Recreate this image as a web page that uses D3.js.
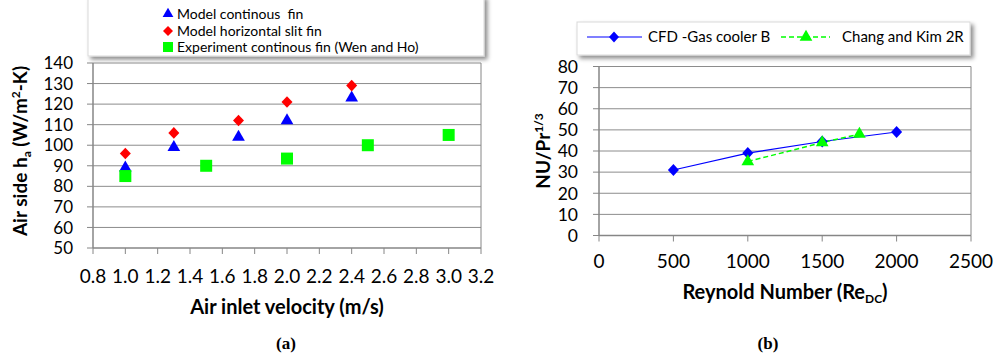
<!DOCTYPE html>
<html><head><meta charset="utf-8">
<script src="https://cdn.jsdelivr.net/npm/d3@7"></script>
<style>
html,body{margin:0;padding:0;background:#fff;}
svg{display:block;font-family:Lato,"Open Sans",sans-serif;}
</style></head>
<body><svg id="c" width="995" height="359"></svg>
<script>
// ---- Data (a) ----
const velocity = [1.0, 1.3, 1.7, 2.0, 2.4];
const modelContinuous = [89, 99, 104, 112, 123];
const modelSlit = [96, 106, 112, 121, 129];
const expVelocity = [1.0, 1.5, 2.0, 2.5, 3.0];
const expContinuous = [85, 90, 93.5, 100, 105];
const xTicksA = [0.8,1.0,1.2,1.4,1.6,1.8,2.0,2.2,2.4,2.6,2.8,3.0,3.2];
const yTicksA = [50,60,70,80,90,100,110,120,130,140];
const legendA = ["Model continous  fin","Model horizontal slit fin","Experiment continous fin (Wen and Ho)"];
// ---- Data (b) ----
const reCFD = [500, 1000, 1500, 2000];
const nuCFD = [31, 39, 44.5, 49];
const reChang = [1000, 1500, 1750];
const nuChang = [35, 44, 48];
const xTicksB = [0,500,1000,1500,2000,2500];
const yTicksB = [0,10,20,30,40,50,60,70,80];
const legendB = ["CFD -Gas cooler B","Chang and Kim 2R"];

const svg = d3.select("#c");
const defs = svg.append("defs");
const f = defs.append("filter").attr("id","sh").attr("x","-5%").attr("y","-20%").attr("width","115%").attr("height","160%");
f.append("feDropShadow").attr("dx",3).attr("dy",3).attr("stdDeviation",2).attr("flood-color","#000").attr("flood-opacity",0.45);

const gridCol = "#8c8c8c", axisCol = "#868686";
const diamond = (w,h) => `M0,${-h}L${w},0L0,${h}L${-w},0Z`;

// ---------------- Chart (a) ----------------
const xA = d3.scaleLinear().domain([0.8,3.2]).range([93,481]);
const yA = d3.scaleLinear().domain([50,140]).range([248,63]);
const gA = svg.append("g");

// legend box
gA.append("rect").attr("x",88).attr("y",-4).attr("width",396).attr("height",60)
  .attr("fill","#fff").attr("stroke","#d9d9d9").attr("filter","url(#sh)");

// grid
gA.selectAll(".gy").data(yTicksA.slice(1)).enter().append("line")
  .attr("x1",xA(0.8)).attr("x2",xA(3.2)).attr("y1",d=>yA(d)).attr("y2",d=>yA(d))
  .attr("stroke",gridCol).attr("stroke-width",1);
gA.append("line").attr("x1",xA(3.2)).attr("x2",xA(3.2)).attr("y1",yA(140)).attr("y2",yA(50)).attr("stroke",axisCol);
// axes
gA.append("line").attr("x1",xA(0.8)).attr("x2",xA(0.8)).attr("y1",yA(140)).attr("y2",yA(50)).attr("stroke",axisCol).attr("stroke-width",1.5);
gA.append("line").attr("x1",xA(0.8)).attr("x2",xA(3.2)).attr("y1",yA(50)).attr("y2",yA(50)).attr("stroke",axisCol).attr("stroke-width",1.5);
gA.selectAll(".ty").data(yTicksA).enter().append("line")
  .attr("x1",xA(0.8)-6).attr("x2",xA(0.8)).attr("y1",d=>yA(d)).attr("y2",d=>yA(d)).attr("stroke",axisCol);
gA.selectAll(".tx").data(xTicksA).enter().append("line")
  .attr("x1",d=>xA(d)).attr("x2",d=>xA(d)).attr("y1",yA(50)).attr("y2",yA(50)+6).attr("stroke",axisCol);
gA.selectAll(".ly").data(yTicksA).enter().append("text")
  .attr("x",xA(0.8)-20).attr("y",d=>yA(d)).attr("dy","0.36em").attr("text-anchor","end")
  .attr("font-size",17).attr("fill","#000").text(d=>d);
gA.selectAll(".lx").data(xTicksA).enter().append("text")
  .attr("x",d=>xA(d)).attr("y",283).attr("text-anchor","middle")
  .attr("font-size",19).attr("fill","#000").text(d=>d3.format(".1f")(d));

// titles
gA.append("text").attr("x",xA(2.0)).attr("y",314).attr("text-anchor","middle")
  .attr("font-size",20).attr("font-weight","bold").text("Air inlet velocity (m/s)");
const tyA = gA.append("text").attr("transform","translate(27,151) rotate(-90)").attr("text-anchor","middle")
  .attr("font-size",19).attr("font-weight","bold");
tyA.append("tspan").text("Air side h");
tyA.append("tspan").attr("font-size",12).attr("dy",4).text("a");
tyA.append("tspan").attr("dy",-4).text(" (W/m");
tyA.append("tspan").attr("font-size",12).attr("dy",-7).text("2");
tyA.append("tspan").attr("dy",7).text("-K)");
gA.append("text").attr("x",286).attr("y",349).attr("text-anchor","middle")
  .attr("font-family","'Liberation Serif','DejaVu Serif',serif").attr("font-weight","bold").attr("font-size",17).text("(a)");

// markers
const tri = d3.symbol().type(d3.symbolTriangle).size(70);
gA.selectAll(".m1").data(velocity).enter().append("path")
  .attr("transform",(d,i)=>`translate(${xA(d)},${yA(modelContinuous[i])})`).attr("d",tri).attr("fill","#0000ff");
gA.selectAll(".m2").data(velocity).enter().append("path")
  .attr("transform",(d,i)=>`translate(${xA(d)},${yA(modelSlit[i])})`).attr("d",diamond(5.5,5.8)).attr("fill","#ff0000");
gA.selectAll(".m3").data(expVelocity).enter().append("rect")
  .attr("x",d=>xA(d)-6).attr("y",(d,i)=>yA(expContinuous[i])-6).attr("width",12).attr("height",12).attr("fill","#00ff00");

// legend entries
const legRows = [14,31,47];
gA.append("path").attr("transform",`translate(168,${legRows[0]})`).attr("d",d3.symbol().type(d3.symbolTriangle).size(50)).attr("fill","#0000ff");
gA.append("path").attr("transform",`translate(168,${legRows[1]})`).attr("d",diamond(5,5)).attr("fill","#ff0000");
gA.append("rect").attr("x",163).attr("y",legRows[2]-5).attr("width",10).attr("height",10).attr("fill","#00ff00");
gA.selectAll(".lt").data(legendA).enter().append("text")
  .attr("x",177).attr("y",(d,i)=>legRows[i]).attr("dy","0.35em").attr("font-size",14).attr("fill","#000")
  .style("white-space","pre").attr("xml:space","preserve").text(d=>d);

// ---------------- Chart (b) ----------------
const xB = d3.scaleLinear().domain([0,2500]).range([599,971]);
const yB = d3.scaleLinear().domain([0,80]).range([235.5,66.5]);
const gB = svg.append("g");

gB.append("rect").attr("x",577).attr("y",22).attr("width",393).attr("height",33)
  .attr("fill","#fff").attr("stroke","#d9d9d9").attr("filter","url(#sh)");

gB.selectAll(".gy").data(yTicksB.slice(1)).enter().append("line")
  .attr("x1",xB(0)).attr("x2",xB(2500)).attr("y1",d=>yB(d)).attr("y2",d=>yB(d))
  .attr("stroke",gridCol).attr("stroke-width",1);
gB.append("line").attr("x1",xB(2500)).attr("x2",xB(2500)).attr("y1",yB(80)).attr("y2",yB(0)).attr("stroke",axisCol);
gB.append("line").attr("x1",xB(0)).attr("x2",xB(0)).attr("y1",yB(80)).attr("y2",yB(0)).attr("stroke",axisCol).attr("stroke-width",1.5);
gB.append("line").attr("x1",xB(0)).attr("x2",xB(2500)).attr("y1",yB(0)).attr("y2",yB(0)).attr("stroke",axisCol).attr("stroke-width",1.5);
gB.selectAll(".ty").data(yTicksB).enter().append("line")
  .attr("x1",xB(0)-6).attr("x2",xB(0)).attr("y1",d=>yB(d)).attr("y2",d=>yB(d)).attr("stroke",axisCol);
gB.selectAll(".tx").data(xTicksB).enter().append("line")
  .attr("x1",d=>xB(d)).attr("x2",d=>xB(d)).attr("y1",yB(0)).attr("y2",yB(0)+6).attr("stroke",axisCol);
gB.selectAll(".ly").data(yTicksB).enter().append("text")
  .attr("x",xB(0)-21).attr("y",d=>yB(d)).attr("dy","0.36em").attr("text-anchor","end")
  .attr("font-size",17.5).attr("fill","#000").text(d=>d);
gB.selectAll(".lx").data(xTicksB).enter().append("text")
  .attr("x",d=>xB(d)).attr("y",268).attr("text-anchor","middle")
  .attr("font-size",19).attr("fill","#000").text(d=>d);

const txB = gB.append("text").attr("x",785).attr("y",299).attr("text-anchor","middle")
  .attr("font-size",20).attr("font-weight","bold");
txB.append("tspan").text("Reynold Number (Re");
txB.append("tspan").attr("font-size",12).attr("dy",4).text("DC");
txB.append("tspan").attr("dy",-4).text(")");
const tyB = gB.append("text").attr("transform","translate(550,151) rotate(-90)").attr("text-anchor","middle")
  .attr("font-size",19).attr("font-weight","bold");
tyB.append("tspan").text("NU/Pr");
tyB.append("tspan").attr("font-size",12).attr("dy",-7).text("1/3");
gB.append("text").attr("x",768).attr("y",349).attr("text-anchor","middle")
  .attr("font-family","'Liberation Serif','DejaVu Serif',serif").attr("font-weight","bold").attr("font-size",17).text("(b)");

// lines
const lineB = d3.line().x(d=>xB(d[0])).y(d=>yB(d[1]));
gB.append("path").datum(reCFD.map((r,i)=>[r,nuCFD[i]])).attr("d",lineB)
  .attr("fill","none").attr("stroke","#0000ff").attr("stroke-width",1.2);
gB.append("path").datum(reChang.map((r,i)=>[r,nuChang[i]])).attr("d",lineB)
  .attr("fill","none").attr("stroke","#00ff00").attr("stroke-width",1.5).attr("stroke-dasharray","5,3");
gB.selectAll(".mc").data(reCFD).enter().append("path")
  .attr("transform",(d,i)=>`translate(${xB(d)},${yB(nuCFD[i])})`).attr("d",diamond(5.5,6)).attr("fill","#0000ff");
gB.selectAll(".mk").data(reChang).enter().append("path")
  .attr("transform",(d,i)=>`translate(${xB(d)},${yB(nuChang[i])})`).attr("d",tri).attr("fill","#00ff00");

// legend b
gB.append("line").attr("x1",587).attr("x2",642).attr("y1",37).attr("y2",37).attr("stroke","#0000ff").attr("stroke-width",1.2);
gB.append("path").attr("transform","translate(614,37)").attr("d",diamond(5,5.5)).attr("fill","#0000ff");
gB.append("line").attr("x1",781).attr("x2",830).attr("y1",37).attr("y2",37).attr("stroke","#00ff00").attr("stroke-width",1.5).attr("stroke-dasharray","5,3");
gB.append("path").attr("transform","translate(806,37)").attr("d",tri).attr("fill","#00ff00");
gB.append("text").attr("x",648).attr("y",37).attr("dy","0.35em").attr("font-size",15).text(legendB[0]);
gB.append("text").attr("x",842).attr("y",37).attr("dy","0.35em").attr("font-size",15).text(legendB[1]);
</script></body></html>
